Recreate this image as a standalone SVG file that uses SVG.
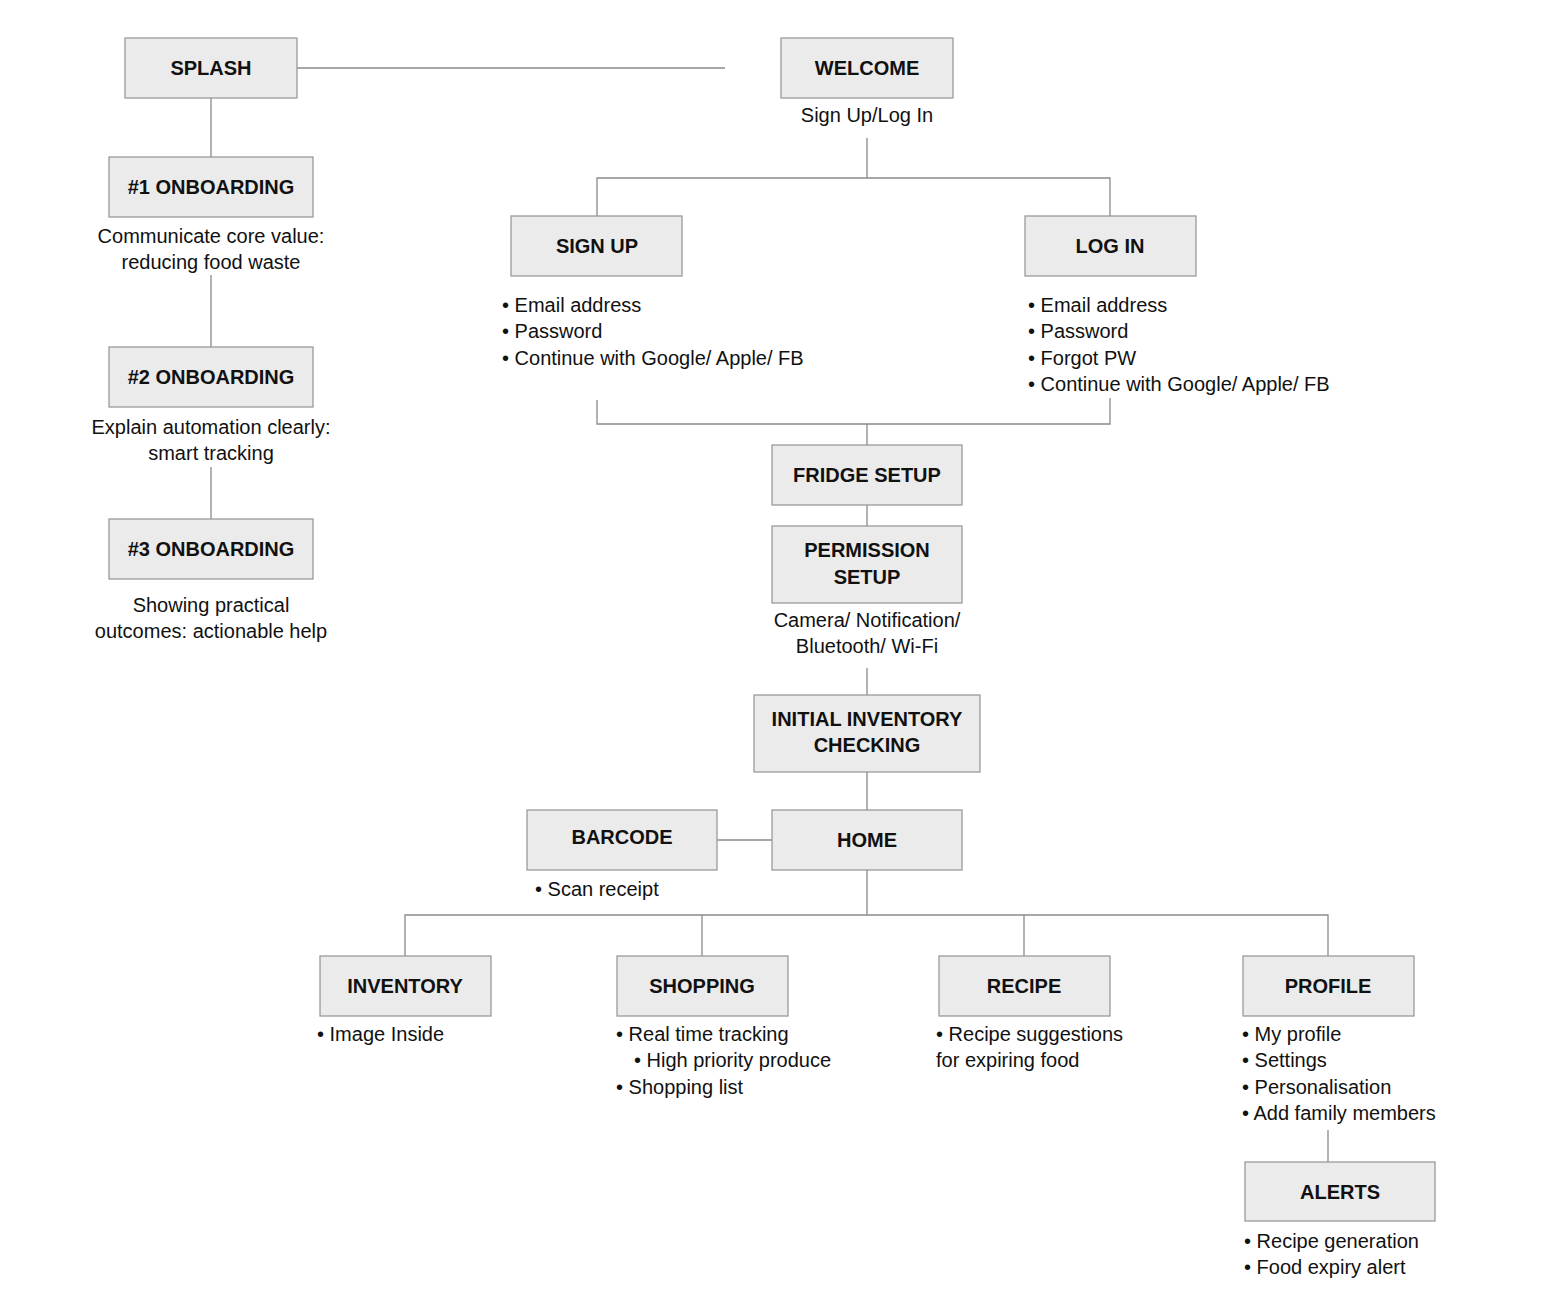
<svg xmlns="http://www.w3.org/2000/svg" width="1542" height="1310" viewBox="0 0 1542 1310">
<style>
.b{fill:#ebebeb;stroke:#9a9a9a;stroke-width:1.3}
.t{font-family:"Liberation Sans",Arial,sans-serif;font-size:20px;font-weight:bold;fill:#111;text-anchor:middle}
.d{font-family:"Liberation Sans",Arial,sans-serif;font-size:20px;fill:#111}
.c{text-anchor:middle}
.l{stroke:#8a8a8a;stroke-width:1.3;fill:none}
</style>
<rect width="1542" height="1310" fill="#fff"/>
<g id="connectors">
<path class="l" d="M297 68H725M211 98V157M211 275V347M211 467V519M867 138V178M597 216V178H1110V216M597 400V424H1110V398M867 424V445M867 505V526M867 668V695M867 772V810M717 840H772M867 870V915M405 956V915H1328V956M702 915V956M1024 915V956M1328 1130V1162"/>
</g>
<g id="splash"><rect class="b" x="125" y="38" width="172" height="60"/><text class="t" x="211" y="75">SPLASH</text></g>
<g id="welcome"><rect class="b" x="781" y="38" width="172" height="60"/><text class="t" x="867" y="75">WELCOME</text><text class="d c" x="867" y="122">Sign Up/Log In</text></g>
<g id="onb1"><rect class="b" x="109" y="157" width="204" height="60"/><text class="t" x="211" y="194">#1 ONBOARDING</text><text class="d c" x="211" y="243">Communicate core value:</text><text class="d c" x="211" y="269">reducing food waste</text></g>
<g id="onb2"><rect class="b" x="109" y="347" width="204" height="60"/><text class="t" x="211" y="384">#2 ONBOARDING</text><text class="d c" x="211" y="434">Explain automation clearly:</text><text class="d c" x="211" y="460">smart tracking</text></g>
<g id="onb3"><rect class="b" x="109" y="519" width="204" height="60"/><text class="t" x="211" y="556">#3 ONBOARDING</text><text class="d c" x="211" y="612">Showing practical</text><text class="d c" x="211" y="638">outcomes: actionable help</text></g>
<g id="signup"><rect class="b" x="511" y="216" width="171" height="60"/><text class="t" x="597" y="253">SIGN UP</text>
<text class="d" x="502" y="312">• Email address</text><text class="d" x="502" y="338">• Password</text><text class="d" x="502" y="365">• Continue with Google/ Apple/ FB</text></g>
<g id="login"><rect class="b" x="1025" y="216" width="171" height="60"/><text class="t" x="1110" y="253">LOG IN</text>
<text class="d" x="1028" y="312">• Email address</text><text class="d" x="1028" y="338">• Password</text><text class="d" x="1028" y="365">• Forgot PW</text><text class="d" x="1028" y="391">• Continue with Google/ Apple/ FB</text></g>
<g id="fridge"><rect class="b" x="772" y="445" width="190" height="60"/><text class="t" x="867" y="482">FRIDGE SETUP</text></g>
<g id="permission"><rect class="b" x="772" y="526" width="190" height="77"/><text class="t" x="867" y="557">PERMISSION</text><text class="t" x="867" y="584">SETUP</text><text class="d c" x="867" y="627">Camera/ Notification/</text><text class="d c" x="867" y="653">Bluetooth/ Wi-Fi</text></g>
<g id="initial"><rect class="b" x="754" y="695" width="226" height="77"/><text class="t" x="867" y="726">INITIAL INVENTORY</text><text class="t" x="867" y="752">CHECKING</text></g>
<g id="barcode"><rect class="b" x="527" y="810" width="190" height="60"/><text class="t" x="622" y="844">BARCODE</text><text class="d" x="535" y="896">• Scan receipt</text></g>
<g id="home"><rect class="b" x="772" y="810" width="190" height="60"/><text class="t" x="867" y="847">HOME</text></g>
<g id="inventory"><rect class="b" x="320" y="956" width="171" height="60"/><text class="t" x="405" y="993">INVENTORY</text><text class="d" x="317" y="1041">• Image Inside</text></g>
<g id="shopping"><rect class="b" x="617" y="956" width="171" height="60"/><text class="t" x="702" y="993">SHOPPING</text><text class="d" x="616" y="1041">• Real time tracking</text><text class="d" x="634" y="1067">•  High priority produce</text><text class="d" x="616" y="1094">• Shopping list</text></g>
<g id="recipe"><rect class="b" x="939" y="956" width="171" height="60"/><text class="t" x="1024" y="993">RECIPE</text><text class="d" x="936" y="1041">• Recipe suggestions</text><text class="d" x="936" y="1067">for expiring food</text></g>
<g id="profile"><rect class="b" x="1243" y="956" width="171" height="60"/><text class="t" x="1328" y="993">PROFILE</text><text class="d" x="1242" y="1041">• My profile</text><text class="d" x="1242" y="1067">• Settings</text><text class="d" x="1242" y="1094">• Personalisation</text><text class="d" x="1242" y="1120">• Add family members</text></g>
<g id="alerts"><rect class="b" x="1245" y="1162" width="190" height="59"/><text class="t" x="1340" y="1199">ALERTS</text><text class="d" x="1244" y="1248">• Recipe generation</text><text class="d" x="1244" y="1274">• Food expiry alert</text></g>
</svg>
